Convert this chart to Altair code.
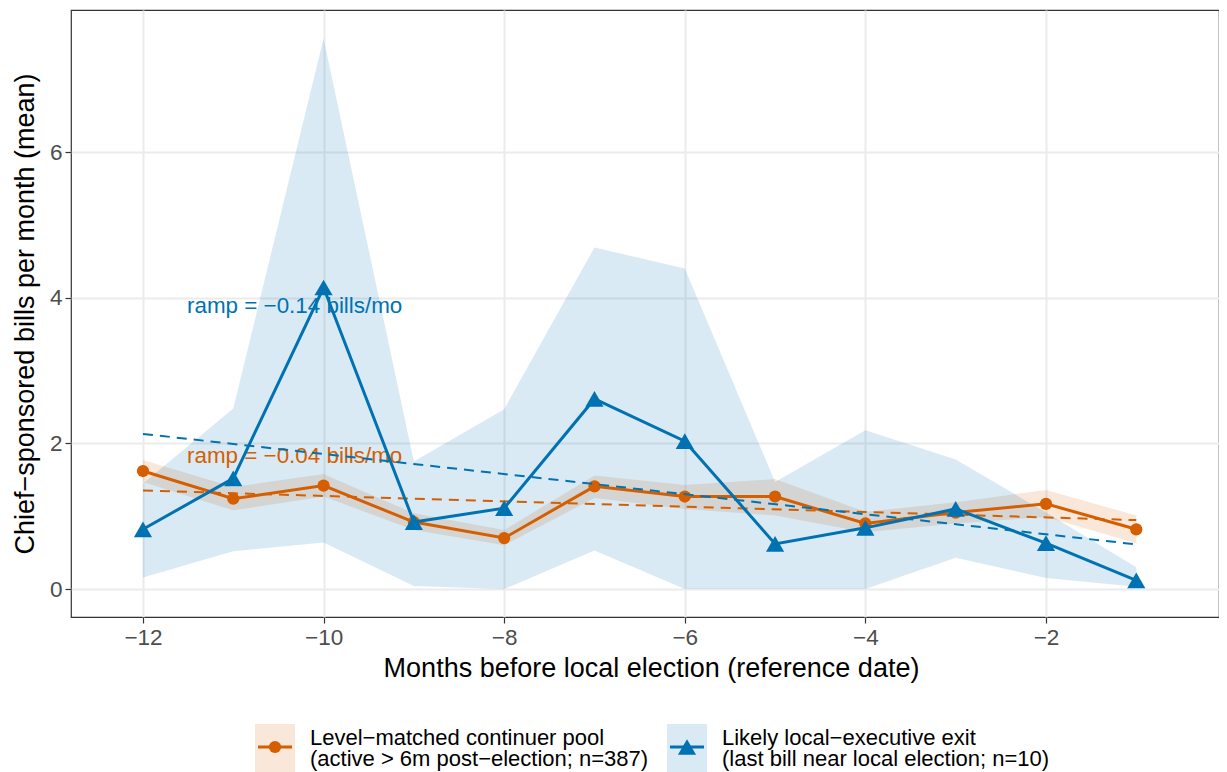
import altair as alt
import pandas as pd

# ---- data ----
months = [-12, -11, -10, -9, -8, -7, -6, -5, -4, -3, -2, -1]

pool_mean = [1.62, 1.24, 1.42, 0.92, 0.70, 1.41, 1.27, 1.27, 0.90, 1.05, 1.17, 0.82]
pool_lo = [1.47, 1.08, 1.27, 0.81, 0.60, 1.25, 1.10, 1.01, 0.78, 0.90, 0.99, 0.63]
pool_hi = [1.77, 1.40, 1.58, 1.04, 0.81, 1.56, 1.43, 1.51, 1.06, 1.19, 1.36, 1.01]

exit_mean = [0.82, 1.52, 4.14, 0.92, 1.11, 2.61, 2.03, 0.62, 0.84, 1.10, 0.63, 0.12]
exit_lo = [0.16, 0.52, 0.64, 0.04, 0.00, 0.53, 0.00, 0.00, 0.00, 0.43, 0.15, 0.03]
exit_hi = [1.45, 2.48, 7.56, 1.75, 2.47, 4.69, 4.40, 1.47, 2.18, 1.78, 1.05, 0.30]

ann_text = ["ramp = \u22120.14 bills/mo", "ramp = \u22120.04 bills/mo"]
ann_x = [-10.32, -10.32]
ann_y = [3.88, 1.83]

legend_line1 = ["Level\u2212matched continuer pool", "Likely local\u2212executive exit"]
legend_line2 = ["(active > 6m post\u2212election; n=387)", "(last bill near local election; n=10)"]

x_ticks = [-12, -10, -8, -6, -4, -2]
y_ticks = [0, 2, 4, 6]

ORANGE = "#D55E00"
BLUE = "#0072B2"
FONT = "Liberation Sans"

pool = pd.DataFrame({"month": months, "mean": pool_mean, "lo": pool_lo, "hi": pool_hi})
exitd = pd.DataFrame({"month": months, "mean": exit_mean, "lo": exit_lo, "hi": exit_hi})
ann_blue = pd.DataFrame({"x": [ann_x[0]], "y": [ann_y[0]], "t": [ann_text[0]]})
ann_orange = pd.DataFrame({"x": [ann_x[1]], "y": [ann_y[1]], "t": [ann_text[1]]})
one = pd.DataFrame({"k": [0]})

x_scale = alt.Scale(domain=[-12.797, -0.084], nice=False, zero=False)
y_scale = alt.Scale(domain=[-0.384, 7.95], nice=False, zero=False)
x_axis = alt.Axis(values=x_ticks, title="Months before local election (reference date)", titleX=580)
y_axis = alt.Axis(values=y_ticks, title="Chief\u2212sponsored bills per month (mean)")


def X(field):
    return alt.X(field, type="quantitative", scale=x_scale, axis=x_axis)


def Y(field):
    return alt.Y(field, type="quantitative", scale=y_scale, axis=y_axis)


band_pool = alt.Chart(pool).mark_area(color=ORANGE, opacity=0.15).encode(
    x=X("month"), y=Y("lo"), y2="hi")
band_exit = alt.Chart(exitd).mark_area(color=BLUE, opacity=0.15).encode(
    x=X("month"), y=Y("lo"), y2="hi")

txt_blue = alt.Chart(ann_blue).mark_text(
    color=BLUE, fontSize=22.4, font=FONT, align="center", baseline="middle").encode(
    x=X("x"), y=Y("y"), text="t:N")
txt_orange = alt.Chart(ann_orange).mark_text(
    color=ORANGE, fontSize=22.4, font=FONT, align="center", baseline="middle").encode(
    x=X("x"), y=Y("y"), text="t:N")

line_pool = alt.Chart(pool).mark_line(color=ORANGE, strokeWidth=3).encode(
    x=X("month"), y=Y("mean"))
pts_pool = alt.Chart(pool).mark_point(
    shape="circle", filled=True, color=ORANGE, size=150, opacity=1).encode(
    x=X("month"), y=Y("mean"))

trend_pool = alt.Chart(pool).transform_regression(
    "month", "mean", method="linear", extent=[-12, -1]).mark_line(
    color=ORANGE, strokeWidth=2, strokeDash=[10, 7]).encode(x=X("month"), y=Y("mean"))
trend_exit = alt.Chart(exitd).transform_regression(
    "month", "mean", method="linear", extent=[-12, -1]).mark_line(
    color=BLUE, strokeWidth=2, strokeDash=[10, 7]).encode(x=X("month"), y=Y("mean"))

line_exit = alt.Chart(exitd).mark_line(color=BLUE, strokeWidth=3).encode(
    x=X("month"), y=Y("mean"))
pts_exit = alt.Chart(exitd).mark_point(
    shape="triangle-up", filled=True, color=BLUE, size=330, opacity=1).encode(
    x=X("month"), y=Y("mean"))

# ---- manual legend below the plot (positions in view pixels) ----
legend_layers = []
entries = [
    (ORANGE, "circle", 150, 184, 239, legend_line1[0], legend_line2[0]),
    (BLUE, "triangle-up", 330, 596, 651, legend_line1[1], legend_line2[1]),
]
for col, shape, size, bx, tx, l1, l2 in entries:
    base = alt.Chart(one)
    legend_layers.append(base.mark_rect(color=col, opacity=0.15).encode(
        x=alt.value(bx), x2=alt.value(bx + 40), y=alt.value(714), y2=alt.value(762)))
    legend_layers.append(base.mark_rule(color=col, strokeWidth=3).encode(
        x=alt.value(bx + 3), x2=alt.value(bx + 37), y=alt.value(737)))
    legend_layers.append(base.mark_point(
        shape=shape, filled=True, color=col, size=size, opacity=1).encode(
        x=alt.value(bx + 20), y=alt.value(737)))
    legend_layers.append(base.mark_text(
        text=l1, align="left", baseline="alphabetic", fontSize=22, font=FONT,
        color="black").encode(x=alt.value(tx), y=alt.value(735)))
    legend_layers.append(base.mark_text(
        text=l2, align="left", baseline="alphabetic", fontSize=22, font=FONT,
        color="black").encode(x=alt.value(tx), y=alt.value(756)))

chart = alt.layer(
    band_pool, band_exit, txt_blue, txt_orange,
    line_pool, pts_pool, trend_pool, trend_exit, line_exit, pts_exit,
    *legend_layers,
).properties(
    width=1148, height=607,
    autosize=alt.AutoSizeParams(type="none"),
    padding={"left": 63, "top": 2, "right": 0, "bottom": 155},
).configure(
    font=FONT,
).configure_view(
    stroke="#333333", strokeWidth=1.2,
).configure_axis(
    domain=False,
    grid=True, gridColor="#ebebeb", gridWidth=2,
    tickColor="#333333", tickWidth=1.2, tickSize=6,
    labelFont=FONT, labelFontSize=22.5, labelColor="#4d4d4d", labelPadding=3,
    titleFont=FONT, titleFontSize=27, titleFontWeight="normal", titleColor="black",
).configure_axisX(
    titlePadding=7,
).configure_axisY(
    titlePadding=10,
)

chart.save("out.html", embed_options={"renderer": "svg", "actions": False})
